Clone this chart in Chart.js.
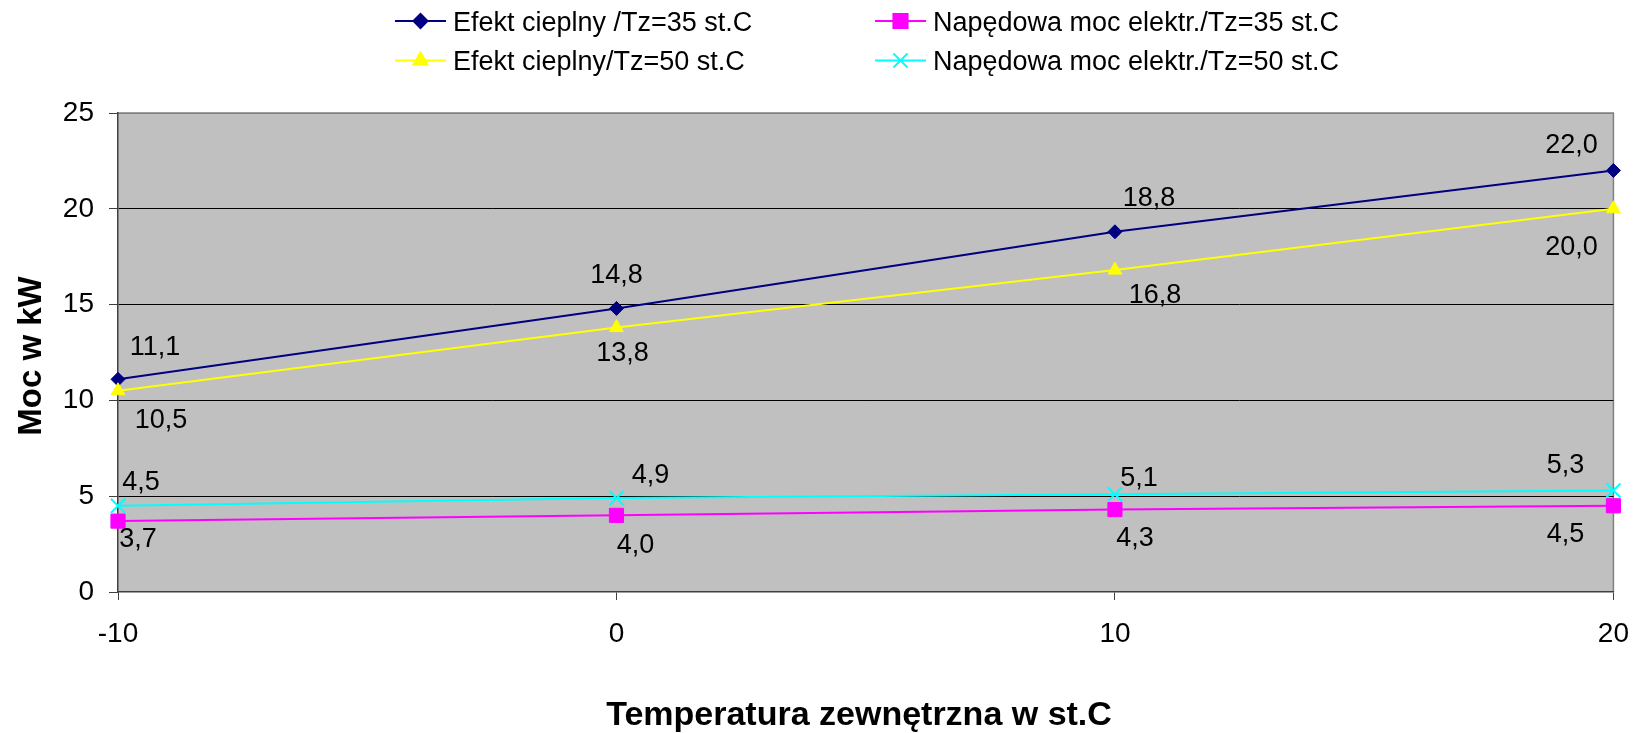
<!DOCTYPE html>
<html>
<head>
<meta charset="utf-8">
<script src="https://cdn.jsdelivr.net/npm/chart.js@4.4.1/dist/chart.umd.min.js"></script>
<style>
  html, body { margin: 0; padding: 0; background: #ffffff; }
  #wrap { width: 1646px; height: 733px; position: relative; }
</style>
</head>
<body>
<div id="wrap"><canvas id="c" width="1646" height="733"></canvas></div>
<script>
// ---- data ----
const temps = [-10, 0, 10, 20];
const efekt35 = [11.1, 14.8, 18.8, 22.0];
const moc35 = [3.7, 4.0, 4.3, 4.5];
const efekt50 = [10.5, 13.8, 16.8, 20.0];
const moc50 = [4.5, 4.9, 5.1, 5.3];
const seriesNames = [
  'Efekt cieplny /Tz=35 st.C',
  'Napędowa moc elektr./Tz=35 st.C',
  'Efekt cieplny/Tz=50 st.C',
  'Napędowa moc elektr./Tz=50 st.C'
];
const xTitle = 'Temperatura zewnętrzna w st.C';
const yTitle = 'Moc w kW';

// ---- styling (positions / sizes) ----
const FONT = '"Liberation Sans", Arial, Helvetica, sans-serif';
const labelOffsets = [
  [[37, -34], [0, -35], [34, -35], [-42, -27]],
  [[20, 16], [19, 28], [20, 27], [-48, 27]],
  [[43, 27], [6, 24], [40, 23], [-42, 36]],
  [[23, -25], [34, -25], [24, -18], [-48, -27]]
];
const styles = [
  { color: '#000080', pointStyle: 'rectRot', radius: 7, bw: 1 },
  { color: '#FF00FF', pointStyle: 'rect', radius: 10, bw: 1 },
  { color: '#FFFF00', pointStyle: 'triangle', radius: 8, bw: 1 },
  { color: '#00FFFF', pointStyle: 'crossRot', radius: 10, bw: 2 }
];
const seriesData = [efekt35, moc35, efekt50, moc50];

const datasets = seriesData.map((vals, i) => ({
  label: seriesNames[i],
  data: temps.map((t, j) => ({ x: t, y: vals[j] })),
  borderColor: styles[i].color,
  backgroundColor: styles[i].color,
  borderWidth: 2,
  pointStyle: styles[i].pointStyle,
  pointRadius: styles[i].radius,
  pointHoverRadius: styles[i].radius,
  pointBorderWidth: styles[i].bw,
  pointBorderColor: styles[i].color,
  pointBackgroundColor: styles[i].color,
  tension: 0,
  clip: false,
  order: 4 - i
}));

const decor = {
  id: 'decor',
  beforeDraw(chart) {
    const { ctx, chartArea: a } = chart;
    ctx.save();
    ctx.fillStyle = '#C0C0C0';
    ctx.fillRect(a.left, a.top, a.right - a.left, a.bottom - a.top);
    ctx.strokeStyle = '#808080';
    ctx.lineWidth = 1.5;
    ctx.beginPath();
    ctx.moveTo(a.left, a.top);
    ctx.lineTo(a.right, a.top);
    ctx.lineTo(a.right, a.bottom);
    ctx.stroke();
    ctx.restore();
  },
  afterDatasetsDraw(chart) {
    const { ctx } = chart;
    ctx.save();
    ctx.font = '27px ' + FONT;
    ctx.fillStyle = '#000000';
    ctx.textAlign = 'center';
    ctx.textBaseline = 'alphabetic';
    chart.data.datasets.forEach((ds, i) => {
      const meta = chart.getDatasetMeta(i);
      meta.data.forEach((pt, j) => {
        const v = seriesData[i][j];
        const txt = v.toFixed(1).replace('.', ',');
        const off = labelOffsets[i][j];
        ctx.fillText(txt, pt.x + off[0], pt.y + off[1] + 9.7);
      });
    });
    ctx.restore();
  },
  afterDraw(chart) {
    const { ctx, chartArea: a } = chart;
    ctx.save();
    // legend
    const cols = [395, 875];
    const rows = [21, 60.5];
    ctx.font = '27px ' + FONT;
    ctx.textBaseline = 'alphabetic';
    ctx.textAlign = 'left';
    chart.data.datasets.forEach((ds, i) => {
      const cx = cols[i % 2], cy = rows[Math.floor(i / 2)];
      ctx.strokeStyle = ds.borderColor;
      ctx.lineWidth = 2;
      ctx.beginPath();
      ctx.moveTo(cx, cy);
      ctx.lineTo(cx + 51, cy);
      ctx.stroke();
      ctx.fillStyle = ds.borderColor;
      Chart.helpers.drawPoint(ctx, {
        pointStyle: ds.pointStyle, radius: ds.pointRadius, borderWidth: ds.pointBorderWidth, rotation: 0
      }, cx + 25.5, cy);
      ctx.fillStyle = '#000000';
      ctx.fillText(ds.label, cx + 58, cy + 9.5);
    });
    // axis titles
    ctx.fillStyle = '#000000';
    ctx.textAlign = 'center';
    ctx.font = 'bold 34px ' + FONT;
    ctx.fillText(xTitle, 859, 713 + 12);
    ctx.translate(28.5, 356);
    ctx.rotate(-Math.PI / 2);
    ctx.font = 'bold 33px ' + FONT;
    ctx.fillText(yTitle, 0, 12);
    ctx.restore();
  }
};

new Chart(document.getElementById('c'), {
  type: 'line',
  data: { datasets },
  options: {
    responsive: false,
    animation: false,
    devicePixelRatio: 1,
    layout: { padding: { top: 113, right: 30, left: 0, bottom: 0 } },
    plugins: { legend: { display: false }, tooltip: { enabled: false }, title: { display: false } },
    scales: {
      x: {
        type: 'linear',
        min: -10, max: 20,
        afterFit(s) { s.height = 141; },
        ticks: { stepSize: 10, color: '#000', font: { family: FONT, size: 28 }, padding: 17, maxRotation: 0 },
        grid: { drawOnChartArea: false, drawTicks: true, tickLength: 8, tickColor: '#404040', tickWidth: 1 },
        border: { color: '#404040', width: 1.5 }
      },
      y: {
        min: 0, max: 25,
        afterFit(s) { s.width = 118; },
        ticks: { stepSize: 5, color: '#000', font: { family: FONT, size: 28 }, padding: 15 },
        grid: {
          color: (c) => (c.tick && c.tick.value === 25) ? '#808080' : (c.tick && c.tick.value === 0 ? 'rgba(0,0,0,0)' : '#000000'),
          lineWidth: 1,
          drawTicks: true, tickLength: 9, tickColor: '#404040'
        },
        border: { color: '#404040', width: 1.5 }
      }
    }
  },
  plugins: [decor]
});
</script>
</body>
</html>
